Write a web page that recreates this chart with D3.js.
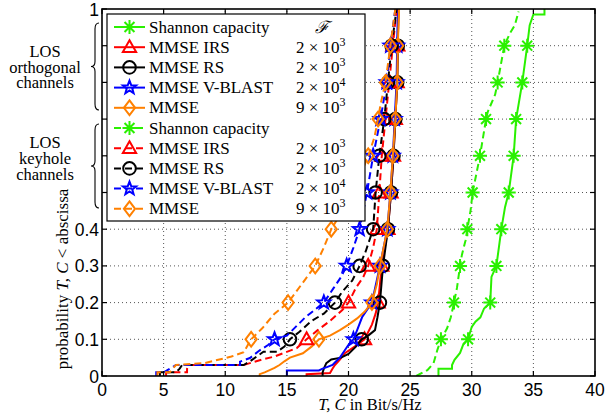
<!DOCTYPE html>
<html><head><meta charset="utf-8">
<script src="https://cdn.jsdelivr.net/npm/d3@7"></script>
<style>body{margin:0;background:#fff} svg{display:block}</style>
</head><body><svg id="chart" width="605" height="413"></svg>
<script>
// ticks
const xTicks = [0,5,10,15,20,25,30,35,40];
const yTicks = [0,0.1,0.2,0.3,0.4,0.5,0.6,0.7,0.8,0.9,1];
const yTickLabels = ['0','0.1','0.2','0.3','0.4','','','','','','1'];
const markerLevels = [0.1,0.2,0.3,0.4,0.5,0.6,0.7,0.8,0.9];

// legend
const seriesNames = ['Shannon capacity','MMSE IRS','MMSE RS','MMSE V-BLAST','MMSE'];
const fMantissa = [null,2,2,2,9];
const fExponent = [null,3,3,4,3];
const groupNames = [['LOS','orthogonal','channels'],['LOS','keyhole','channels']];

// empirical CDFs, [x in Bit/s/Hz, probability]
const orthoShannon = [[27.3,0],[27.3,0.02],[28.4,0.02],[28.4,0.03],[28.6,0.044],[29.05,0.063],[29.3,0.085],[29.7,0.1],[30.0,0.134],[30.3,0.148],[30.7,0.16],[31.0,0.184],[31.5,0.2],[31.6,0.27],[32.0,0.3],[32.2,0.35],[32.4,0.4],[32.7,0.46],[33.0,0.5],[33.4,0.6],[33.6,0.7],[34.1,0.8],[34.5,0.9],[34.7,0.956],[35.0,0.985],[35.9,0.985],[35.9,1.0]];
const orthoIRS = [[16.6,0],[16.6,0.005],[18.5,0.008],[18.7,0.02],[18.9,0.03],[19.3,0.045],[19.7,0.062],[20.5,0.08],[21.3,0.1],[21.9,0.14],[22.2,0.17],[22.4,0.2],[22.7,0.3],[23.2,0.4],[23.45,0.5],[23.65,0.6],[23.8,0.7],[23.95,0.8],[24.0,0.9],[24.05,1.0]];
const orthoRS = [[17.9,0],[17.9,0.01],[18.0,0.02],[18.2,0.035],[18.6,0.045],[19.4,0.05],[20.0,0.06],[20.6,0.08],[21.07,0.1],[21.6,0.11],[22.15,0.125],[22.35,0.16],[22.55,0.2],[22.8,0.3],[23.2,0.4],[23.45,0.5],[23.65,0.6],[23.8,0.7],[23.95,0.8],[24.0,0.9],[24.05,1.0]];
const orthoVB = [[15.0,0],[15.0,0.015],[17.6,0.015],[17.9,0.02],[18.3,0.025],[18.7,0.03],[19.0,0.04],[19.3,0.05],[19.7,0.07],[20.0,0.085],[20.4,0.1],[20.7,0.125],[21.1,0.16],[21.9,0.2],[22.55,0.3],[23.15,0.4],[23.4,0.5],[23.6,0.6],[23.75,0.7],[23.9,0.8],[23.95,0.9],[24.0,1.0]];
const orthoMMSE = [[12.8,0],[12.8,0.005],[13.2,0.01],[13.6,0.016],[14.0,0.022],[14.4,0.03],[14.8,0.04],[15.25,0.05],[16.3,0.062],[17.0,0.08],[17.6,0.1],[18.5,0.11],[19.3,0.125],[20.0,0.14],[20.7,0.157],[21.3,0.175],[21.9,0.2],[22.3,0.25],[22.55,0.3],[23.15,0.4],[23.4,0.5],[23.6,0.6],[23.8,0.7],[23.95,0.8],[24.0,0.9],[24.1,1.0]];

const keyShannon = [[25.5,0],[26.4,0.016],[26.9,0.035],[27.2,0.07],[27.5,0.1],[28.0,0.13],[28.3,0.16],[28.56,0.2],[28.8,0.24],[29.05,0.3],[29.2,0.33],[29.5,0.37],[29.64,0.4],[29.9,0.45],[30.07,0.5],[30.67,0.6],[31.16,0.7],[31.3,0.72],[31.9,0.767],[32.1,0.8],[32.64,0.9],[33.1,0.934],[33.5,0.956],[33.8,0.993]];
const keyIRS = [[5.2,0],[5.2,0.01],[6.9,0.01],[6.9,0.02],[7.0,0.03],[11.5,0.03],[12.0,0.035],[13.0,0.045],[14.0,0.053],[14.7,0.062],[15.8,0.076],[16.2,0.088],[16.6,0.1],[17.5,0.125],[18.5,0.15],[19.5,0.18],[20.0,0.2],[20.6,0.24],[21.2,0.27],[21.6,0.3],[22.0,0.35],[22.3,0.4],[22.5,0.5],[22.7,0.6],[23.0,0.7],[23.3,0.8],[23.6,0.9],[23.9,1.0]];
const keyRS = [[4.7,0],[4.7,0.01],[6.0,0.01],[6.3,0.02],[6.5,0.03],[11.5,0.03],[12.0,0.04],[13.1,0.066],[14.2,0.066],[14.8,0.08],[15.25,0.1],[16.0,0.12],[17.0,0.15],[18.0,0.17],[18.9,0.2],[19.5,0.23],[20.3,0.26],[20.9,0.3],[21.4,0.34],[22.0,0.4],[22.2,0.5],[22.5,0.6],[22.9,0.7],[23.2,0.8],[23.5,0.9],[23.9,1.0]];
const keyVB = [[4.4,0],[4.4,0.01],[5.0,0.01],[5.5,0.02],[6.0,0.03],[11.2,0.03],[11.2,0.039],[12.0,0.049],[12.8,0.07],[13.5,0.085],[14.0,0.1],[15.0,0.11],[16.5,0.16],[18.0,0.2],[18.8,0.24],[19.4,0.27],[19.85,0.3],[20.4,0.35],[20.9,0.4],[21.5,0.5],[22.0,0.6],[22.6,0.7],[23.1,0.8],[23.4,0.9],[23.8,1.0]];
const keyMMSE = [[4.5,0],[4.5,0.01],[5.5,0.01],[6.0,0.03],[8.3,0.035],[10.5,0.053],[11.5,0.065],[12.1,0.1],[13.0,0.13],[14.0,0.17],[15.1,0.2],[16.2,0.25],[17.3,0.3],[18.0,0.35],[18.6,0.4],[19.5,0.45],[20.3,0.5],[21.0,0.55],[21.6,0.6],[22.1,0.65],[22.4,0.7],[22.6,0.74],[23.0,0.8],[23.4,0.9],[23.8,1.0]];

const colors = ['#2af000','#ff0000','#000000','#0000ff','#ff8000'];
const markers = ['ast','tri','circ','star','diam'];
const orthoData = [orthoShannon,orthoIRS,orthoRS,orthoVB,orthoMMSE];
const keyData = [keyShannon,keyIRS,keyRS,keyVB,keyMMSE];

const sx = d3.scaleLinear().domain([0,40]).range([102,595]);
const sy = d3.scaleLinear().domain([0,1]).range([376,9]);
const svg = d3.select('#chart');
const sans = '"Liberation Sans", Arial, sans-serif';
const serif = '"Liberation Serif", "DejaVu Serif", serif';

function markerPath(type, r) {
  const p = d3.path();
  if (type==='tri') {
    p.moveTo(0,-r); p.lineTo(r*0.95,r*0.7); p.lineTo(-r*0.95,r*0.7); p.closePath();
  } else if (type==='circ') {
    p.arc(0,0,r*0.9,0,2*Math.PI);
  } else if (type==='diam') {
    p.moveTo(0,-r*1.05); p.lineTo(r*0.8,0); p.lineTo(0,r*1.05); p.lineTo(-r*0.8,0); p.closePath();
  } else if (type==='star') {
    for (let i=0;i<10;i++) {
      const a = -Math.PI/2 + i*Math.PI/5, rr = i%2 ? r*0.42 : r;
      i ? p.lineTo(rr*Math.cos(a), rr*Math.sin(a)) : p.moveTo(rr*Math.cos(a), rr*Math.sin(a));
    }
    p.closePath();
  } else { // asterisk
    for (let i=0;i<4;i++) {
      const a = i*Math.PI/4;
      p.moveTo(-r*Math.cos(a), -r*Math.sin(a)); p.lineTo(r*Math.cos(a), r*Math.sin(a));
    }
  }
  return p.toString();
}

// grid
const grid = svg.append('g').attr('stroke','#555').attr('stroke-width',1).attr('stroke-dasharray','1,3');
grid.selectAll('.gx').data(xTicks.slice(1,-1)).join('line')
  .attr('x1',d=>sx(d)).attr('x2',d=>sx(d)).attr('y1',sy(0)).attr('y2',sy(1));
grid.selectAll('.gy').data(yTicks.slice(1,-1)).join('line')
  .attr('y1',d=>sy(d)).attr('y2',d=>sy(d)).attr('x1',sx(0)).attr('x2',sx(40));

// curves
svg.append('defs').append('clipPath').attr('id','clip').append('rect')
  .attr('x',sx(0)).attr('y',sy(1)).attr('width',sx(40)-sx(0)).attr('height',sy(0)-sy(1));
const line = d3.line().x(d=>sx(d[0])).y(d=>sy(d[1]));
const plot = svg.append('g').attr('clip-path','url(#clip)');
function drawSet(data, dashed) {
  data.forEach((pts,i) => {
    plot.append('path').attr('d',line(pts)).attr('fill','none')
      .attr('stroke',colors[i]).attr('stroke-width',2)
      .attr('stroke-dasharray',dashed?'7,4':null);
    const mk = pts.filter(d => markerLevels.some(l => Math.abs(l-d[1])<1e-9));
    plot.selectAll(null).data(mk).join('path')
      .attr('transform',d=>`translate(${sx(d[0])},${sy(d[1])})`)
      .attr('d',markerPath(markers[i],7)).attr('fill','none')
      .attr('stroke',colors[i]).attr('stroke-width',2);
  });
}
drawSet(orthoData,false);
drawSet(keyData,true);

// axes box and ticks
const ax = svg.append('g').attr('stroke','#000').attr('stroke-width',1.2);
ax.append('rect').attr('x',sx(0)).attr('y',sy(1)).attr('width',sx(40)-sx(0)).attr('height',sy(0)-sy(1)).attr('fill','none').attr('stroke-width',1.6);
xTicks.forEach(t => {
  ax.append('line').attr('x1',sx(t)).attr('x2',sx(t)).attr('y1',sy(0)).attr('y2',sy(0)-5);
  ax.append('line').attr('x1',sx(t)).attr('x2',sx(t)).attr('y1',sy(1)).attr('y2',sy(1)+5);
});
yTicks.forEach(t => {
  ax.append('line').attr('y1',sy(t)).attr('y2',sy(t)).attr('x1',sx(0)).attr('x2',sx(0)+5);
  ax.append('line').attr('y1',sy(t)).attr('y2',sy(t)).attr('x1',sx(40)).attr('x2',sx(40)-5);
});
svg.append('g').selectAll('text').data(xTicks).join('text')
  .attr('x',d=>sx(d)).attr('y',396).attr('text-anchor','middle')
  .style('font-family',sans).style('font-size','17.5px').text(d=>d);
svg.append('g').selectAll('text').data(yTicks).join('text')
  .attr('x',99).attr('y',d=>sy(d)+6.5).attr('text-anchor','end')
  .style('font-family',sans).style('font-size','17.5px').text((d,i)=>yTickLabels[i]);

// axis labels
const xl = svg.append('text').attr('x',370).attr('y',410).attr('text-anchor','middle')
  .style('font-family',serif).style('font-size','16.5px');
xl.append('tspan').style('font-style','italic').text('T, C');
xl.append('tspan').text(' in Bit/s/Hz');
const yl = svg.append('text').attr('transform','translate(68,279) rotate(-90)').attr('text-anchor','middle')
  .style('font-family',serif).style('font-size','17px');
yl.append('tspan').text('probability ');
yl.append('tspan').style('font-style','italic').text('T, C');
yl.append('tspan').text(' < abscissa');

// legend
const lg = svg.append('g');
lg.append('rect').attr('x',107).attr('y',14).attr('width',258).attr('height',207)
  .attr('fill','#fff').attr('stroke','#000').attr('stroke-width',1.2);
const rowY = i => 27 + i*20.2;
for (let g=0; g<2; g++) {
  seriesNames.forEach((name,i) => {
    const y = rowY(g*5+i);
    lg.append('line').attr('x1',114).attr('x2',145).attr('y1',y).attr('y2',y)
      .attr('stroke',colors[i]).attr('stroke-width',2).attr('stroke-dasharray',g?'7,4':null);
    lg.append('path').attr('transform',`translate(129.5,${y})`).attr('d',markerPath(markers[i],7))
      .attr('fill','none').attr('stroke',colors[i]).attr('stroke-width',2);
    lg.append('text').attr('x',149).attr('y',y+5.5).style('font-family',serif).style('font-size','17px').text(name);
    if (fMantissa[i]!==null) {
      const t = lg.append('text').attr('x',296).attr('y',y+5.5).style('font-family',serif).style('font-size','17px');
      t.append('tspan').text(fMantissa[i]+' × 10');
      t.append('tspan').attr('dy',-7).style('font-size','12px').text(fExponent[i]);
    }
  });
}
lg.append('text').attr('x',322).attr('y',rowY(0)+5.5).attr('text-anchor','middle')
  .style('font-family',serif).style('font-size','17px').style('font-style','italic').text('ℱ');

// group annotations with braces
const braces = [[23,110],[124,208]];
const baselines = [[57,73,88],[148,164,180]];
groupNames.forEach((lines,g) => {
  lines.forEach((s,k) => svg.append('text').attr('x',45).attr('y',baselines[g][k]).attr('text-anchor','middle')
    .style('font-family',serif).style('font-size','16.5px').text(s));
  const [a,b] = braces[g], m = (a+b)/2;
  svg.append('path').attr('fill','none').attr('stroke','#000').attr('stroke-width',1.1)
    .attr('d',`M99,${a} Q95,${a} 95,${a+6} L95,${m-5} Q95,${m} 91,${m} Q95,${m} 95,${m+5} L95,${b-6} Q95,${b} 99,${b}`);
});
</script></body></html>
